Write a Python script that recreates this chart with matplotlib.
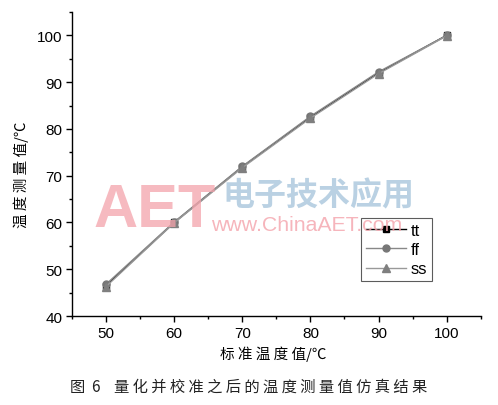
import matplotlib
matplotlib.use("Agg")
import matplotlib.pyplot as plt
from matplotlib.ticker import MultipleLocator

plt.rcParams["font.family"] = ["Liberation Sans", "Noto Sans CJK SC", "DejaVu Sans"]
CJK = ["Noto Sans CJK SC", "DejaVu Sans"]

# 数据
std_temp = [50, 60, 70, 80, 90, 100]
tt = [46.5, 60.0, 71.9, 82.5, 92.0, 100.0]
ff = [46.8, 60.1, 72.0, 82.7, 92.2, 100.0]
ss = [46.3, 59.9, 71.7, 82.3, 91.8, 99.9]
series_names = ["tt", "ff", "ss"]

fig = plt.figure(figsize=(4.98, 4.06), dpi=100)
ax = fig.add_axes([0.1446, 0.2192, 0.8207, 0.7488])

# 水印
fig.text(0.188, 0.44, "AET", fontsize=44, fontweight="bold", color="#f4a3ab",
         alpha=0.75, family="Liberation Sans", zorder=0)
fig.text(0.446, 0.495, "电子技术应用", fontsize=23, fontweight="bold", color="#a9c6dc",
         alpha=0.8, family="Noto Sans CJK SC", zorder=0)
fig.text(0.424, 0.432, "www.ChinaAET.com", fontsize=15.3, color="#f4a3ab",
         alpha=0.8, family="Liberation Sans", zorder=0)
ax.patch.set_alpha(0)

ax.plot(std_temp, tt, color="black", lw=1.0, marker="s", ms=5,
        mfc="black", mec="black", label=series_names[0], zorder=3)
ax.plot(std_temp, ff, color="#888888", lw=1.0, marker="o", ms=5,
        mfc="#777777", mec="#777777", label=series_names[1], zorder=4)
ax.plot(std_temp, ss, color="#999999", lw=1.0, marker="^", ms=6,
        mfc="#7f7f7f", mec="#7f7f7f", label=series_names[2], zorder=5)

ax.set_xlim(45, 105)
ax.set_ylim(40, 105)
ax.xaxis.set_major_locator(MultipleLocator(10))
ax.xaxis.set_minor_locator(MultipleLocator(5))
ax.yaxis.set_major_locator(MultipleLocator(10))
ax.yaxis.set_minor_locator(MultipleLocator(5))
ax.set_xticks([50, 60, 70, 80, 90, 100])
ax.set_yticks([40, 50, 60, 70, 80, 90, 100])

for side in ("top", "right"):
    ax.spines[side].set_visible(False)
for side in ("left", "bottom"):
    ax.spines[side].set_linewidth(1.0)
ax.tick_params(which="major", direction="out", length=4, width=1.0,
               labelsize=11, pad=3)
ax.tick_params(which="minor", direction="out", length=2.5, width=1.0)

ax.set_xlabel("标 准 温 度 值/℃", family=CJK, fontsize=10.5)
ax.xaxis.set_label_coords(0.492, -0.098)
ax.set_ylabel("温 度 测 量 值/℃", family=CJK, fontsize=10.5)
ax.yaxis.set_label_coords(-0.105, 0.467)

leg = ax.legend(loc="upper left", bbox_to_anchor=(0.707, 0.322), fontsize=12,
                frameon=True, fancybox=False, edgecolor="#333333",
                handlelength=2.4, handletextpad=0.3, borderpad=0.3,
                labelspacing=0.25, borderaxespad=0)
leg.get_frame().set_linewidth(0.8)
leg.get_frame().set_facecolor("none")

fig.text(0.5, 0.045, "图  6    量 化 并 校 准 之 后 的 温 度 测 量 值 仿 真 结 果",
         family=CJK, fontsize=11, ha="center", va="center", color="#222222")

fig.savefig("out.png", dpi=100)
